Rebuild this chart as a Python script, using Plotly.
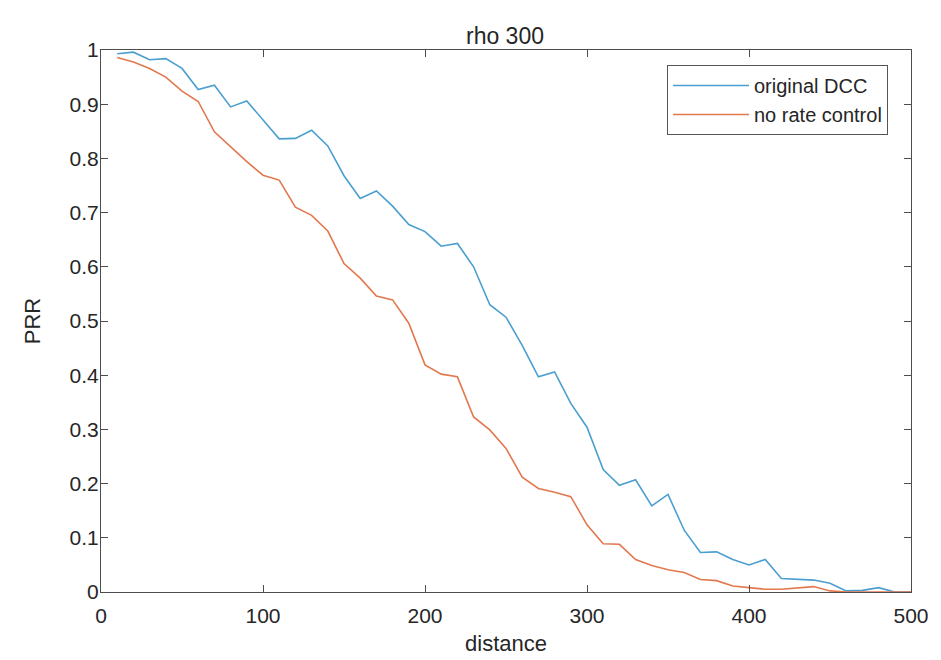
import plotly.graph_objects as go

distance = list(range(10, 501, 10))

original_dcc = [0.993, 0.996, 0.982, 0.984, 0.966, 0.927, 0.935, 0.895, 0.906, 0.871,
                0.836, 0.837, 0.852, 0.823, 0.768, 0.726, 0.740, 0.712, 0.678, 0.665,
                0.638, 0.643, 0.600, 0.530, 0.507, 0.455, 0.397, 0.406, 0.348, 0.304,
                0.226, 0.197, 0.207, 0.159, 0.180, 0.114, 0.073, 0.074, 0.060, 0.050,
                0.060, 0.025, 0.024, 0.022, 0.016, 0.002, 0.003, 0.008, 0.0, 0.0]

no_rate_control = [0.986, 0.978, 0.966, 0.950, 0.924, 0.905, 0.849, 0.822, 0.794, 0.769,
                   0.760, 0.710, 0.695, 0.666, 0.606, 0.579, 0.546, 0.539, 0.496, 0.419,
                   0.402, 0.397, 0.323, 0.299, 0.265, 0.212, 0.191, 0.184, 0.176, 0.124,
                   0.089, 0.088, 0.060, 0.049, 0.041, 0.036, 0.023, 0.021, 0.011, 0.008,
                   0.005, 0.005, 0.007, 0.010, 0.002, 0.0, 0.0, 0.0, 0.0, 0.0]

x_ticks = [0, 100, 200, 300, 400, 500]
y_ticks = [0, 0.1, 0.2, 0.3, 0.4, 0.5, 0.6, 0.7, 0.8, 0.9, 1]
y_tick_text = ["0", "0.1", "0.2", "0.3", "0.4", "0.5", "0.6", "0.7", "0.8", "0.9", "1"]

FONT = "Liberation Sans, Arial, sans-serif"
AX = "#4d4d4d"
TXT = "#262626"

fig = go.Figure()
fig.add_trace(go.Scatter(x=distance, y=original_dcc, mode="lines", name="original DCC",
                         line=dict(color="#4a9fd0", width=1.6)))
fig.add_trace(go.Scatter(x=distance, y=no_rate_control, mode="lines", name="no rate control",
                         line=dict(color="#e3784f", width=1.6)))

axis_common = dict(showgrid=False, zeroline=False, showline=True, linecolor=AX, linewidth=1,
                   mirror="ticks", ticks="inside", ticklen=7, tickcolor=AX, automargin=False,
                   tickfont=dict(family=FONT, size=21, color=TXT))

fig.update_layout(
    width=941, height=660,
    paper_bgcolor="white", plot_bgcolor="white",
    margin=dict(l=93, r=38, t=42, b=76),
    title=dict(text="rho 300", x=497 / 941, xanchor="center", y=1 - 28 / 660, yanchor="middle",
               yref="container", font=dict(family=FONT, size=23, color=TXT)),
    xaxis=dict(range=[0, 500], tickvals=x_ticks, ticklabelstandoff=5,
               title=dict(text="distance", font=dict(family=FONT, size=22, color=TXT), standoff=9),
               **axis_common),
    yaxis=dict(range=[0, 1], tickvals=y_ticks, ticktext=y_tick_text, ticklabelstandoff=-3,
               title=dict(text="PRR", font=dict(family=FONT, size=22, color=TXT), standoff=22),
               **axis_common),
    legend=dict(x=0.9716, xanchor="right", y=0.9723, yanchor="top",
                bordercolor="#555", borderwidth=1, bgcolor="white",
                font=dict(family=FONT, size=20, color=TXT),
                itemwidth=76, tracegroupgap=0),
    showlegend=True,
)

fig.write_html("out.html")
